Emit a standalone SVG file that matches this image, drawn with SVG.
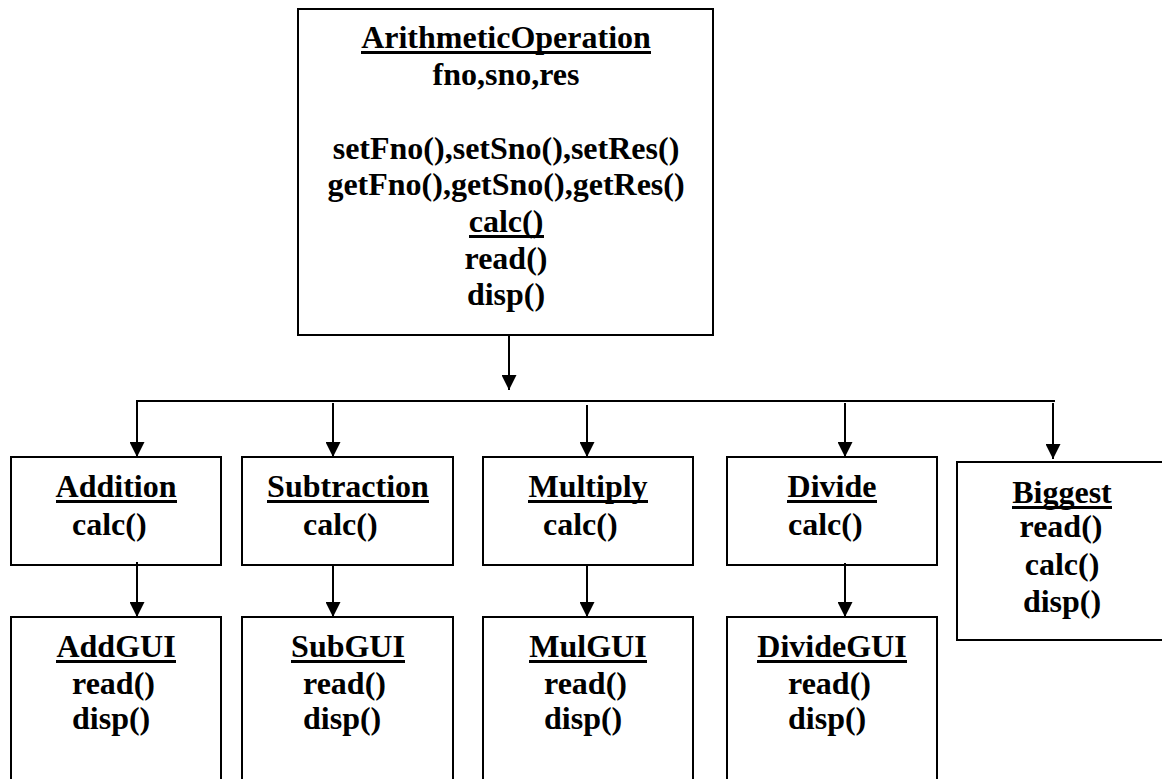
<svg xmlns="http://www.w3.org/2000/svg" width="1162" height="779" viewBox="0 0 1162 779">
  <style>
    .box { fill: #ffffff; stroke: #000000; stroke-width: 2; }
    .t { font-family: "Liberation Serif", "Times New Roman", serif; font-weight: bold; font-size: 32px; fill: #000000; }
    .c { text-anchor: middle; }
    .ul { stroke: #000000; stroke-width: 3; }
    .link { fill: none; stroke: #000000; stroke-width: 2; }
  </style>
  <defs>
    <marker id="arrow" markerUnits="userSpaceOnUse" markerWidth="15" markerHeight="15" refX="15" refY="7.5" orient="auto">
      <path d="M0,0 L15,7.5 L0,15 Z" fill="#000000"/>
    </marker>
  </defs>

  <rect width="1162" height="779" fill="#ffffff"/>

  <!-- base class -->
  <g id="arithmetic-operation">
    <rect class="box" x="298" y="9" width="415" height="326"/>
    <text class="t c" x="506" y="48">ArithmeticOperation</text>
    <line class="ul" x1="361" y1="52.5" x2="651" y2="52.5"/>
    <text class="t c" x="506" y="85">fno,sno,res</text>
    <text class="t c" x="506" y="159">setFno(),setSno(),setRes()</text>
    <text class="t c" x="506" y="195">getFno(),getSno(),getRes()</text>
    <text class="t c" x="506" y="232">calc()</text>
    <line class="ul" x1="469" y1="236.5" x2="544" y2="236.5"/>
    <text class="t c" x="506" y="269">read()</text>
    <text class="t c" x="506" y="305">disp()</text>
  </g>

  <!-- subclasses -->
  <g id="addition">
    <rect class="box" x="11" y="457" width="210" height="108"/>
    <text class="t c" x="116" y="497">Addition</text>
    <line class="ul" x1="56" y1="501.5" x2="177" y2="501.5"/>
    <text class="t" x="72" y="535">calc()</text>
  </g>
  <g id="subtraction">
    <rect class="box" x="242" y="457" width="211" height="108"/>
    <text class="t c" x="348" y="497">Subtraction</text>
    <line class="ul" x1="267" y1="501.5" x2="429" y2="501.5"/>
    <text class="t" x="303" y="535">calc()</text>
  </g>
  <g id="multiply">
    <rect class="box" x="483" y="457" width="210" height="108"/>
    <text class="t c" x="588" y="497">Multiply</text>
    <line class="ul" x1="528" y1="501.5" x2="648" y2="501.5"/>
    <text class="t" x="543" y="535">calc()</text>
  </g>
  <g id="divide">
    <rect class="box" x="727" y="457" width="210" height="108"/>
    <text class="t c" x="832" y="497">Divide</text>
    <line class="ul" x1="787" y1="501.5" x2="877" y2="501.5"/>
    <text class="t" x="788" y="535">calc()</text>
  </g>
  <g id="biggest">
    <rect class="box" x="957" y="462" width="230" height="178"/>
    <text class="t c" x="1062" y="503">Biggest</text>
    <line class="ul" x1="1012" y1="507.5" x2="1112" y2="507.5"/>
    <text class="t c" x="1061" y="537">read()</text>
    <text class="t c" x="1062" y="575">calc()</text>
    <text class="t c" x="1062" y="612">disp()</text>
  </g>

  <!-- GUI classes -->
  <g id="add-gui">
    <rect class="box" x="11" y="617" width="210" height="200"/>
    <text class="t c" x="116" y="657">AddGUI</text>
    <line class="ul" x1="56" y1="661.5" x2="176" y2="661.5"/>
    <text class="t" x="72" y="694">read()</text>
    <text class="t" x="72" y="729">disp()</text>
  </g>
  <g id="sub-gui">
    <rect class="box" x="242" y="617" width="211" height="200"/>
    <text class="t c" x="348" y="657">SubGUI</text>
    <line class="ul" x1="291" y1="661.5" x2="405" y2="661.5"/>
    <text class="t" x="303" y="694">read()</text>
    <text class="t" x="303" y="729">disp()</text>
  </g>
  <g id="mul-gui">
    <rect class="box" x="483" y="617" width="210" height="200"/>
    <text class="t c" x="588" y="657">MulGUI</text>
    <line class="ul" x1="529" y1="661.5" x2="647" y2="661.5"/>
    <text class="t" x="544" y="694">read()</text>
    <text class="t" x="544" y="729">disp()</text>
  </g>
  <g id="divide-gui">
    <rect class="box" x="727" y="617" width="210" height="200"/>
    <text class="t c" x="832" y="657">DivideGUI</text>
    <line class="ul" x1="757" y1="661.5" x2="907" y2="661.5"/>
    <text class="t" x="788" y="694">read()</text>
    <text class="t" x="788" y="729">disp()</text>
  </g>

  <!-- connectors -->
  <g id="connectors">
    <line class="link" x1="509" y1="335" x2="509" y2="390" marker-end="url(#arrow)"/>
    <polyline class="link" points="1055,401 137,401 137,457" marker-end="url(#arrow)"/>
    <line class="link" x1="333" y1="403" x2="333" y2="457" marker-end="url(#arrow)"/>
    <line class="link" x1="587" y1="405" x2="587" y2="457" marker-end="url(#arrow)"/>
    <line class="link" x1="845" y1="403" x2="845" y2="457" marker-end="url(#arrow)"/>
    <line class="link" x1="1053" y1="403" x2="1053" y2="459" marker-end="url(#arrow)"/>
    <line class="link" x1="137" y1="562" x2="137" y2="617" marker-end="url(#arrow)"/>
    <line class="link" x1="333" y1="564" x2="333" y2="617" marker-end="url(#arrow)"/>
    <line class="link" x1="587" y1="564" x2="587" y2="617" marker-end="url(#arrow)"/>
    <line class="link" x1="845" y1="563" x2="845" y2="617" marker-end="url(#arrow)"/>
  </g>
</svg>
